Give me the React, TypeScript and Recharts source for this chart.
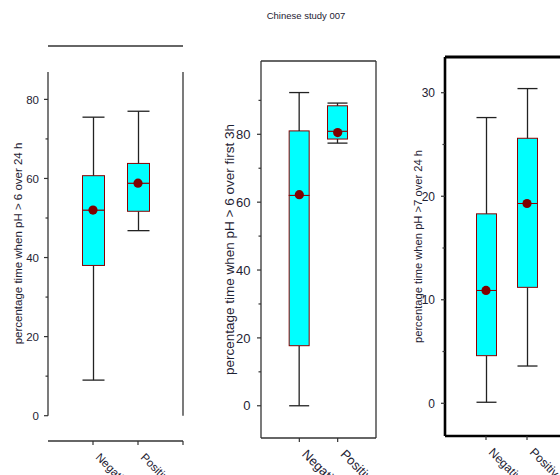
import React from 'react';
import { ComposedChart, Bar, Scatter, XAxis, YAxis, ReferenceLine } from 'recharts';

const FONT = '"Liberation Sans", Arial, sans-serif';
const INK = '#1e2233';

const categories = ['Negative', 'Positive'];

// pH > 6 over 24 h
const day6Min = [9, 46.8];
const day6Q1 = [38, 51.7];
const day6Median = [52, 58.8];
const day6Q3 = [60.7, 63.8];
const day6Max = [75.5, 77];
const day6Mean = [52, 58.8];
const day6Ticks = [0, 10, 20, 30, 40, 50, 60, 70, 80];

// pH > 6 over the first 3 h
const first3Min = [0, 77.4];
const first3Q1 = [17.7, 78.6];
const first3Median = [62, 80.9];
const first3Q3 = [81, 88.4];
const first3Max = [92.3, 89.2];
const first3Mean = [62.2, 80.5];
const first3Ticks = [0, 10, 20, 30, 40, 50, 60, 70, 80, 90];

// pH > 7 over 24 h
const day7Min = [0.1, 3.6];
const day7Q1 = [4.6, 11.2];
const day7Median = [10.9, 19.3];
const day7Q3 = [18.3, 25.6];
const day7Max = [27.6, 30.4];
const day7Mean = [10.9, 19.3];
const day7Ticks = [0, 5, 10, 15, 20, 25, 30];

function buildRows(min: number[], q1: number[], med: number[], q3: number[], max: number[], mean: number[]) {
  return categories.map((name, i) => ({
    pos: i + 1,
    name,
    base: min[i],
    lowWhisker: q1[i] - min[i],
    lowBox: med[i] - q1[i],
    highBox: q3[i] - med[i],
    highWhisker: max[i] - q3[i],
    mean: mean[i],
  }));
}

const LowWhisker = (p: any) => {
  const cx = p.x + p.width / 2;
  const yb = p.y + p.height;
  return (
    <g stroke="#222" strokeWidth={1.3}>
      <line x1={cx} x2={cx} y1={p.y} y2={yb} />
      <line x1={p.x} x2={p.x + p.width} y1={yb} y2={yb} />
    </g>
  );
};

const HighWhisker = (p: any) => {
  const cx = p.x + p.width / 2;
  return (
    <g stroke="#222" strokeWidth={1.3}>
      <line x1={cx} x2={cx} y1={p.y} y2={p.y + p.height} />
      <line x1={p.x} x2={p.x + p.width} y1={p.y} y2={p.y} />
    </g>
  );
};

const BoxPart = (p: any) => (
  <rect x={p.x} y={p.y} width={p.width} height={p.height} fill="#00ffff" stroke="#8b0000" strokeWidth={1} />
);

const MeanDot = (p: any) => <circle cx={p.cx} cy={p.cy} r={4.6} fill="#800000" />;

type PanelProps = {
  left: number;
  width: number;
  top: number;
  right: number;
  yAxisWidth: number;
  xAxisHeight: number;
  domain: [number, number];
  yTicks: number[];
  labelStep: number;
  xTicks: number[];
  rows: ReturnType<typeof buildRows>;
  yLabel: string;
  yLabelX: number;
  fontSize: number;
  titleSize: number;
  boxSize: number;
  tickGap: number;
  style: 'open' | 'box' | 'bold';
  openTop?: number;
};

function Panel(props: PanelProps) {
  const { domain, style } = props;
  const lineColor = style === 'bold' ? '#000' : '#333';
  const lineWidth = style === 'bold' ? 2.6 : 1.3;
  const axisLine = { stroke: lineColor, strokeWidth: lineWidth };

  const yTick = (p: any) => {
    const v = p.payload.value;
    const major = v % props.labelStep === 0;
    return (
      <g>
        <line x1={p.x - (major ? 4 : 2.5)} x2={p.x} y1={p.y} y2={p.y} stroke="#333" strokeWidth={1.2} />
        {major && (
          <text x={p.x - props.tickGap} y={p.y} dy="0.36em" textAnchor="end" fontSize={props.fontSize} fontFamily={FONT} fill={INK}>
            {v}
          </text>
        )}
      </g>
    );
  };

  const xTick = (p: any) => {
    const name = categories[p.payload.value - 1];
    const tx = p.x + 2;
    const ty = p.y + 17;
    return (
      <g>
        <line x1={p.x} x2={p.x} y1={p.y} y2={p.y + 4} stroke="#333" strokeWidth={1.2} />
        {name && (
          <text x={tx} y={ty} transform={`rotate(45 ${tx} ${ty})`} fontSize={props.fontSize} fontFamily={FONT} fill={INK}>
            {name}
          </text>
        )}
      </g>
    );
  };

  const yLabel = (p: any) => {
    const vb = p.viewBox;
    const cx = vb.x + props.yLabelX;
    const cy = vb.y + vb.height / 2;
    return (
      <text x={cx} y={cy} dy="0.35em" textAnchor="middle" transform={`rotate(-90 ${cx} ${cy})`} fontSize={props.titleSize} fontFamily={FONT} fill={INK}>
        {props.yLabel}
      </text>
    );
  };

  return (
    <div style={{ position: 'absolute', left: props.left, top: 0 }}>
      <ComposedChart
        width={props.width}
        height={475}
        data={props.rows}
        margin={{ top: props.top, right: props.right, bottom: 0, left: 0 }}
      >
        <XAxis
          dataKey="pos"
          type="number"
          domain={[0, 3]}
          allowDataOverflow
          ticks={props.xTicks}
          interval={0}
          height={props.xAxisHeight}
          axisLine={axisLine}
          tickLine={false}
          tickSize={0}
          tickMargin={0}
          tick={xTick}
        />
        <YAxis
          type="number"
          domain={domain}
          allowDataOverflow
          ticks={props.yTicks}
          interval={0}
          width={props.yAxisWidth}
          axisLine={style === 'open' ? false : axisLine}
          tickLine={false}
          tickSize={0}
          tickMargin={0}
          tick={yTick}
          label={{ content: yLabel }}
        />
        <Bar dataKey="base" stackId="b" fill="none" barSize={props.boxSize} isAnimationActive={false} />
        <Bar dataKey="lowWhisker" stackId="b" barSize={props.boxSize} shape={LowWhisker} isAnimationActive={false} />
        <Bar dataKey="lowBox" stackId="b" barSize={props.boxSize} shape={BoxPart} isAnimationActive={false} />
        <Bar dataKey="highBox" stackId="b" barSize={props.boxSize} shape={BoxPart} isAnimationActive={false} />
        <Bar dataKey="highWhisker" stackId="b" barSize={props.boxSize} shape={HighWhisker} isAnimationActive={false} />
        <Scatter dataKey="mean" shape={MeanDot} isAnimationActive={false} />
        <ReferenceLine y={domain[1]} stroke={lineColor} strokeWidth={style === 'bold' ? 3 : lineWidth} ifOverflow="visible" />
        {style === 'open' ? (
          <>
            <ReferenceLine segment={[{ x: 0, y: 0 }, { x: 0, y: props.openTop }]} stroke={lineColor} strokeWidth={lineWidth} ifOverflow="visible" />
            <ReferenceLine segment={[{ x: 3, y: 0 }, { x: 3, y: props.openTop }]} stroke={lineColor} strokeWidth={lineWidth} ifOverflow="visible" />
          </>
        ) : (
          <ReferenceLine x={3} stroke={lineColor} strokeWidth={lineWidth} ifOverflow="visible" />
        )}
      </ComposedChart>
    </div>
  );
}

export default function App() {
  return (
    <div style={{ position: 'absolute', left: 0, top: 0, width: 560, height: 475, overflow: 'hidden', background: '#fff' }}>
      <div style={{ position: 'absolute', left: 236, top: 10, width: 140, textAlign: 'center', fontFamily: FONT, fontSize: 9.5, lineHeight: '12px', color: INK }}>
        Chinese study 007
      </div>
      <Panel
        left={0}
        width={200}
        top={46}
        right={17}
        yAxisWidth={48}
        xAxisHeight={34}
        domain={[-6.4, 93.5]}
        yTicks={day6Ticks}
        labelStep={20}
        xTicks={[1, 2, 3]}
        rows={buildRows(day6Min, day6Q1, day6Median, day6Q3, day6Max, day6Mean)}
        yLabel="percentage time when pH > 6 over 24 h"
        yLabelX={18}
        fontSize={11.5}
        titleSize={11.5}
        boxSize={22}
        tickGap={9}
        style="open"
        openTop={86.9}
      />
      <Panel
        left={190}
        width={200}
        top={61}
        right={14}
        yAxisWidth={71}
        xAxisHeight={37}
        domain={[-9.5, 101.6]}
        yTicks={first3Ticks}
        labelStep={20}
        xTicks={[1, 2]}
        rows={buildRows(first3Min, first3Q1, first3Median, first3Q3, first3Max, first3Mean)}
        yLabel="percentage time when pH > 6 over first 3h"
        yLabelX={39}
        fontSize={13}
        titleSize={13.5}
        boxSize={20}
        tickGap={10.5}
        style="box"
      />
      <Panel
        left={390}
        width={180}
        top={57}
        right={2}
        yAxisWidth={55}
        xAxisHeight={39}
        domain={[-3.16, 33.45]}
        yTicks={day7Ticks}
        labelStep={10}
        xTicks={[1, 2]}
        rows={buildRows(day7Min, day7Q1, day7Median, day7Q3, day7Max, day7Mean)}
        yLabel="percentage time when pH >7 over 24 h"
        yLabelX={28}
        fontSize={12}
        titleSize={11.2}
        boxSize={20}
        tickGap={10}
        style="bold"
      />
    </div>
  );
}
